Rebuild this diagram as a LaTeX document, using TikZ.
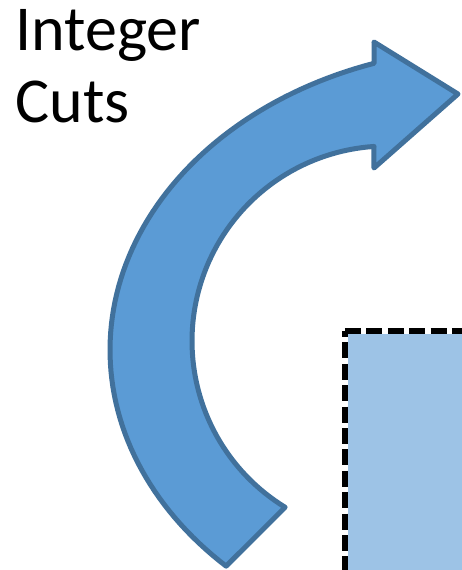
\documentclass[tikz,border=0pt]{standalone}
\usepackage{fontspec}
\setmainfont{Carlito}

\definecolor{arrowfill}{HTML}{5B9BD5}
\definecolor{arrowline}{HTML}{41719C}
\definecolor{boxfill}{HTML}{9DC3E6}

\begin{document}
\begin{tikzpicture}[x=0.5pt, y=-0.5pt,
  bigarrow/.style={fill=arrowfill, draw=arrowline, line width=2.5pt, line join=round},
  cutedge/.style={line width=2.6pt, dash pattern=on 8pt off 2.7pt}]
  \useasboundingbox (0,0) rectangle (462,570);
  % dashed box, cut by the page edge
  \coordinate (boxcorner) at (345,331);
  \coordinate (boxright) at (480,331);
  \coordinate (boxbottom) at (345,590);
  \fill[boxfill] (boxcorner) rectangle (480,590);
  \draw[white, line width=3.2pt] (boxbottom) -- (boxcorner) -- (boxright);
  \draw[cutedge] (boxcorner) -- (boxright);
  \draw[cutedge, dash phase=5pt] (boxcorner) -- (boxbottom);
  % curved arrow
  \draw[bigarrow] plot[domain=134.3:251.7, samples=80] ({495+385*cos(\x)}, {350+302*sin(\x)})
    -- (374,42) -- (458,94) -- (374,168) -- (374,147)
    -- plot[domain=266.2:121.5, samples=80] ({387+195*cos(\x)}, {341+195*sin(\x)})
    -- cycle;
  \node[anchor=base west, align=left, inner sep=0pt,
    font=\fontsize{32}{36}\selectfont] (title) at (15,122) {Integer\\Cuts};
\end{tikzpicture}
\end{document}
